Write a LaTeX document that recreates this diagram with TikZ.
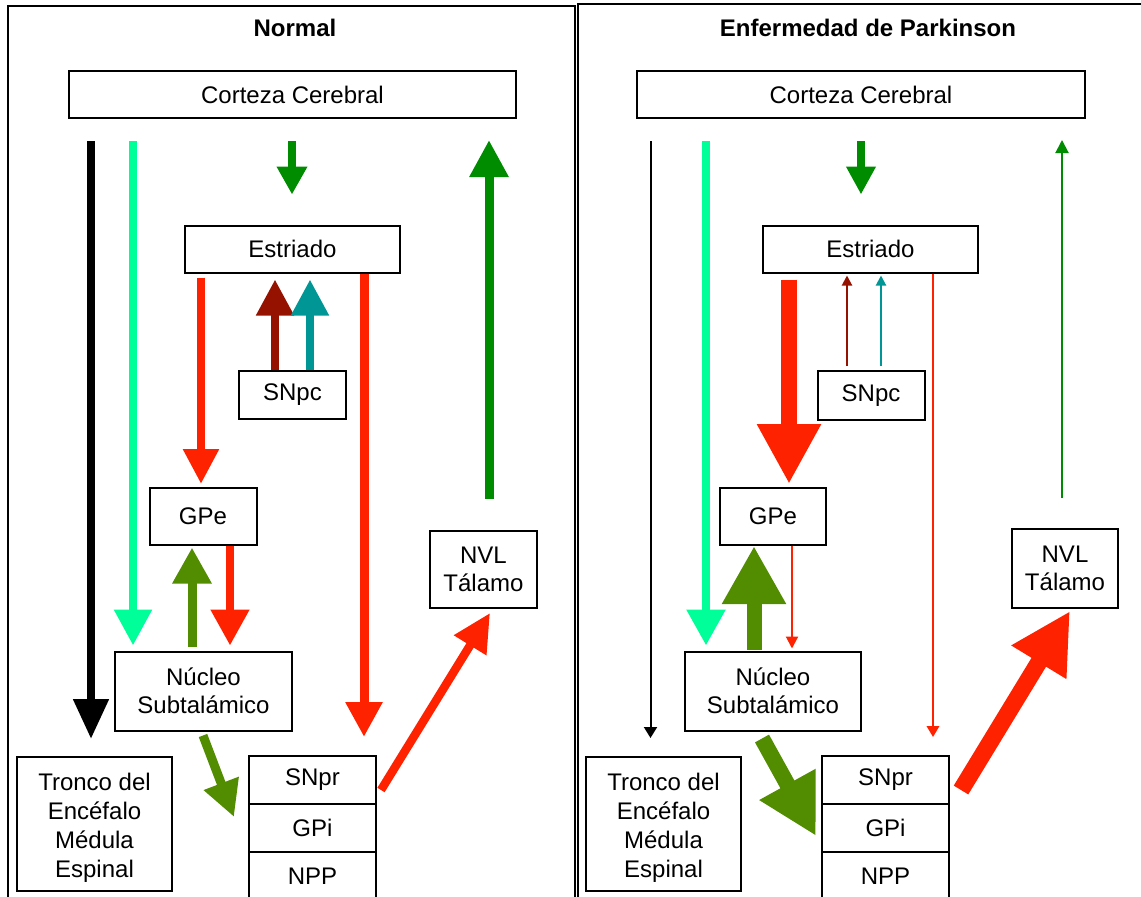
\documentclass[tikz,border=0pt]{standalone}
\usepackage{fontspec}
\setmainfont{Liberation Sans}
\usetikzlibrary{arrows.meta,calc}

\definecolor{cSpring}{RGB}{0,255,153}
\definecolor{cGreen}{RGB}{0,140,0}
\definecolor{cOlive}{RGB}{82,140,0}
\definecolor{cRed}{RGB}{255,34,0}
\definecolor{cDark}{RGB}{150,18,0}
\definecolor{cTeal}{RGB}{0,150,150}

\begin{document}
\begin{tikzpicture}[x=1pt,y=-1pt,
  box/.style={draw, line width=2pt, fill=white, inner sep=0pt, align=center,
    font=\fontsize{24}{28}\selectfont},
  tallbox/.style={box, font=\fontsize{24}{29}\selectfont},
  heading/.style={font=\bfseries\fontsize{24}{28}\selectfont},
  panel/.style={draw, line width=2.5pt},
  link/.style n args={3}{line width=#1, -{Triangle[width=#2,length=#3]}}
]
\useasboundingbox (0,0) rectangle (1141,897);

% ---------- panel frames ----------
\draw[panel] (575,905) -- (575,6) -- (8,6) -- (8,905);
\draw[panel] (578,905) -- (578,4) -- (1150,4);

% ---------- normal circuit ----------
\node[heading] (titleL) at (295,28) {Normal};
\node[box, minimum width=447pt, minimum height=47pt] (cortL) at (292.5,94.5) {Corteza Cerebral};
\node[box, minimum width=215pt, minimum height=47pt] (estL) at (292.5,249) {Estriado};
\node[box, minimum width=107pt, minimum height=48pt] (snpcL) at (292.5,395) {SNpc};
\node[box, minimum width=107pt, minimum height=57pt] (gpeL) at (203,516.5) {GPe};
\node[box, minimum width=177pt, minimum height=79pt] (nstL) at (203.5,691) {Núcleo\\Subtalámico};
\node[box, minimum width=107pt, minimum height=77pt] (nvlL) at (483.5,569.5) {NVL\\Tálamo};
\node[tallbox, minimum width=155pt, minimum height=134pt] (troncoL) at (94.5,824) {\rule{0pt}{24pt}Tronco del\\Encéfalo\\Médula\\Espinal};
\node[box, minimum width=127pt, minimum height=48pt] (snprL) at (312.5,780) {SNpr};
\node[box, minimum width=127pt, minimum height=48pt] (gpiL) at (312.5,828) {GPi};
\node[box, minimum width=127pt, minimum height=48pt] (nppL) at (312.5,876) {NPP};

\draw[link={8pt}{34pt}{40pt}, black, shorten <=22pt, shorten >=17pt]
  ([xshift=-201.5pt]cortL.south) -- ([xshift=-3.5pt]troncoL.north);
\draw[link={8.5pt}{36pt}{36pt}, cSpring, shorten <=22pt, shorten >=5pt]
  ([xshift=-159.5pt]cortL.south) -- ([xshift=-70.5pt]nstL.north);
\draw[link={7.5pt}{29pt}{28pt}, cGreen, shorten <=22pt, shorten >=30pt]
  ([xshift=-0.5pt]cortL.south) -- ([xshift=-0.5pt]estL.north);
\draw[link={9pt}{37pt}{37pt}, cGreen, shorten <=31pt, shorten >=21pt]
  ([xshift=5.5pt]nvlL.north) -- ([xshift=196.5pt]cortL.south);
\draw[link={8.5pt}{34pt}{35pt}, cRed, shorten <=4pt, shorten >=3pt]
  ([xshift=-91.5pt]estL.south) -- ([xshift=-2pt]gpeL.north);
\draw[link={9pt}{35pt}{35pt}, cRed, shorten >=18pt]
  ([xshift=71.5pt]estL.south) -- ([xshift=51.5pt]snprL.north);
\draw[link={8pt}{36pt}{36pt}, cDark, shorten >=6pt]
  ([xshift=-17.5pt]snpcL.north) -- ([xshift=-17.5pt]estL.south);
\draw[link={8pt}{36pt}{36pt}, cTeal, shorten >=6pt]
  ([xshift=17.5pt]snpcL.north) -- ([xshift=17.5pt]estL.south);
\draw[link={9pt}{37pt}{36pt}, cOlive, shorten <=3.5pt, shorten >=1.5pt]
  ([xshift=-11.5pt]nstL.north) -- ([xshift=-11pt]gpeL.south);
\draw[link={8pt}{37pt}{36pt}, cRed, shorten >=5pt]
  ([xshift=27pt]gpeL.south) -- ([xshift=26.5pt]nstL.north);
\draw[link={8.5pt}{36pt}{38pt}, cRed]
  ($(snprL.east)+(4,10)$) -- ($(nvlL.south)+(6.5,4)$);
\draw[link={9pt}{35pt}{36pt}, cOlive]
  ($(nstL.south)+(-0.5,4)$) -- ($(snprL.west)+(-14,37)$);

% ---------- parkinsonian circuit ----------
\node[heading] (titleR) at (868,28) {Enfermedad de Parkinson};
\node[box, minimum width=448pt, minimum height=47pt] (cortR) at (861,94.5) {Corteza Cerebral};
\node[box, minimum width=215pt, minimum height=47pt] (estR) at (870.5,249) {Estriado};
\node[box, minimum width=107pt, minimum height=49pt] (snpcR) at (871,395.5) {SNpc};
\node[box, minimum width=106pt, minimum height=57pt] (gpeR) at (773,516.5) {GPe};
\node[box, minimum width=176pt, minimum height=79pt] (nstR) at (773,691) {Núcleo\\Subtalámico};
\node[box, minimum width=106pt, minimum height=79pt] (nvlR) at (1065,568.5) {NVL\\Tálamo};
\node[tallbox, minimum width=155pt, minimum height=134pt] (troncoR) at (663.5,824) {\rule{0pt}{24pt}Tronco del\\Encéfalo\\Médula\\Espinal};
\node[box, minimum width=127pt, minimum height=48pt] (snprR) at (885.5,780) {SNpr};
\node[box, minimum width=127pt, minimum height=48pt] (gpiR) at (885.5,828) {GPi};
\node[box, minimum width=127pt, minimum height=48pt] (nppR) at (885.5,876) {NPP};

\draw[link={2pt}{13pt}{11pt}, black, shorten <=22pt, shorten >=18pt]
  ([xshift=-210.5pt]cortR.south) -- ([xshift=-13pt]troncoR.north);
\draw[link={8.5pt}{37pt}{36pt}, cSpring, shorten <=22pt, shorten >=5pt]
  ([xshift=-155pt]cortR.south) -- ([xshift=-67pt]nstR.north);
\draw[link={8pt}{28pt}{28pt}, cGreen, shorten <=22pt, shorten >=30pt]
  ([xshift=0pt]cortR.south) -- ([xshift=-9.5pt]estR.north);
\draw[link={2pt}{13pt}{13pt}, cGreen, shorten <=30pt, shorten >=21pt]
  ([xshift=-3pt]nvlR.north) -- ([xshift=201pt]cortR.south);
\draw[link={16pt}{60pt}{60pt}, cRed, shorten <=6pt, shorten >=3pt]
  ([xshift=-81.5pt]estR.south) -- ([xshift=16pt]gpeR.north);
\draw[link={2pt}{10pt}{10pt}, cDark, shorten <=4pt, shorten >=2pt]
  ([xshift=-24pt]snpcR.north) -- ([xshift=-23.5pt]estR.south);
\draw[link={2pt}{10pt}{10pt}, cTeal, shorten <=4pt, shorten >=2pt]
  ([xshift=10pt]snpcR.north) -- ([xshift=10.5pt]estR.south);
\draw[link={2pt}{12.5pt}{11pt}, cRed, shorten >=18pt]
  ([xshift=62.5pt]estR.south) -- ([xshift=47.5pt]snprR.north);
\draw[link={15pt}{60pt}{58pt}, cOlive, shorten <=1pt]
  ([xshift=-19pt]nstR.north) -- ([xshift=-19pt]gpeR.south);
\draw[link={2pt}{12pt}{12pt}, cRed, shorten >=2pt]
  ([xshift=19pt]gpeR.south) -- ([xshift=19pt]nstR.north);
\draw[link={17pt}{60pt}{60pt}, cRed]
  ($(snprR.east)+(11,10)$) -- ($(nvlR.south)+(5,2)$);
\draw[link={16pt}{60pt}{59pt}, cOlive]
  ($(nstR.south)+(-11,7)$) -- ($(snprR.west)+(-5,56)$);
\end{tikzpicture}
\end{document}
